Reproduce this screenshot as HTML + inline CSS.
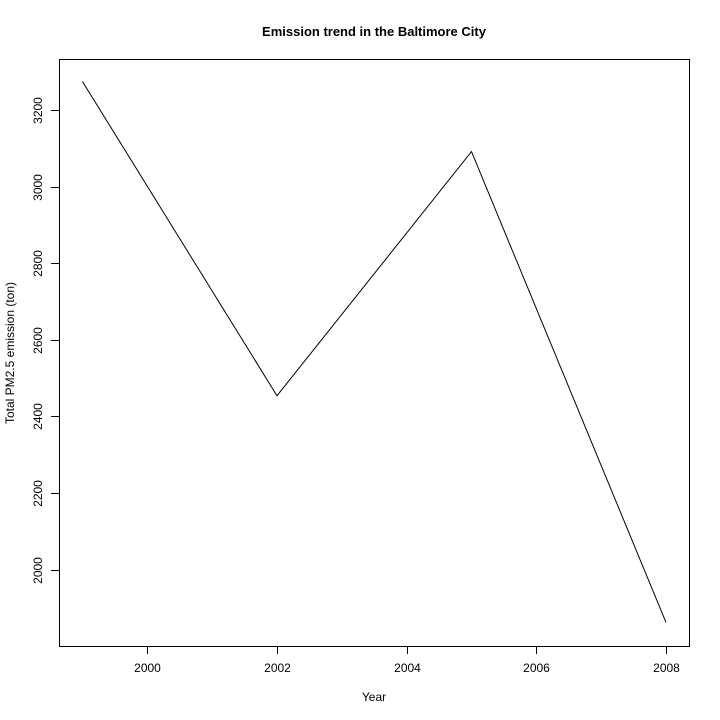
<!DOCTYPE html>
<html><head><meta charset="utf-8"><style>body{margin:0;background:#fff}svg{display:block}text{font-family:"Liberation Sans",Arial,sans-serif;font-size:12px;fill:#000}</style></head>
<body>
<svg id="chart" width="720" height="720" viewBox="0 0 720 720">
<rect x="0" y="0" width="720" height="720" fill="#fff"/>
<text x="374" y="36" text-anchor="middle" style="font-weight:bold;font-size:13px">Emission trend in the Baltimore City</text>
<text x="374" y="701" text-anchor="middle">Year</text>
<text transform="translate(14,353) rotate(-90)" text-anchor="middle">Total PM2.5 emission (ton)</text>
<rect x="59.5" y="59.5" width="630" height="587" fill="none" stroke="#000" stroke-width="1"/>
<g id="axes"></g>
<polyline id="series" fill="none" stroke="#000" stroke-width="1"/>
</svg>
<script>
const years=[1999,2002,2005,2008];
const emissions=[3274.18,2453.92,3091.35,1862.28];
const xTicks=[2000,2002,2004,2006,2008];
const yTicks=[2000,2200,2400,2600,2800,3000,3200];
function xs(v){return 82.5+(v-1999)*64.83;}
function ys(v){return 110+(3200-v)*0.383;}
const ns="http://www.w3.org/2000/svg";
const g=document.getElementById('axes');
function mk(t,a){const e=document.createElementNS(ns,t);for(const k in a)e.setAttribute(k,a[k]);g.appendChild(e);return e;}
xTicks.forEach(v=>{
 const x=Math.round(xs(v))+0.5;
 const l=mk('line',{x1:x,x2:x,y1:646,y2:654,stroke:'#000'});
 
 
 const t=mk('text',{x:x,y:672,'text-anchor':'middle'});
 
 
 t.textContent=v;
});
yTicks.forEach(v=>{
 const y=Math.round(ys(v))+0.5;
 const l=mk('line',{x1:51,x2:59,y1:y,y2:y,stroke:'#000'});
 
 
 const t=mk('text',{transform:`translate(42,${y}) rotate(-90)`,'text-anchor':'middle'});
 
 
 t.textContent=v;
});
document.getElementById('series').setAttribute('points',years.map((y,i)=>xs(y)+','+ys(emissions[i])).join(' '));
</script>
</body></html>
